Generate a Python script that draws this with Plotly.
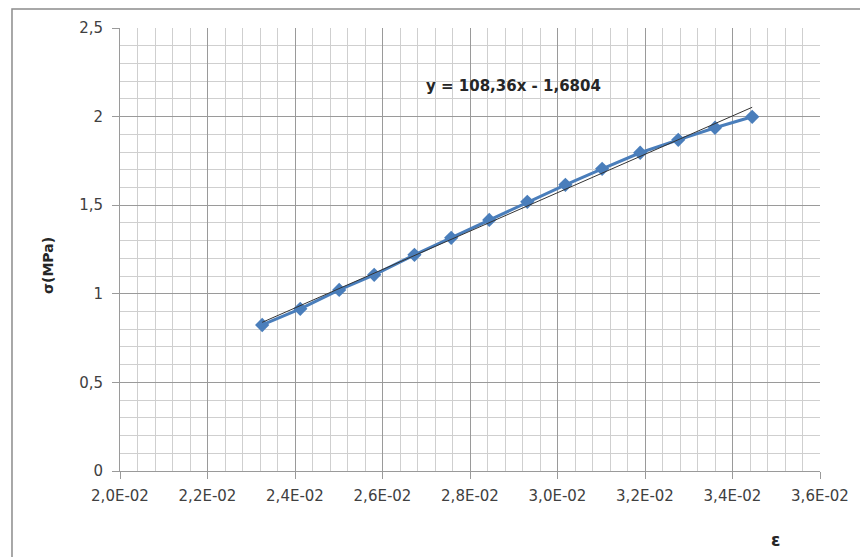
import plotly.graph_objects as go

# Data
strain = [0.02325, 0.02412, 0.02501, 0.02581, 0.02673, 0.02757, 0.02844,
          0.02931, 0.03018, 0.03102, 0.03189, 0.03276, 0.03360, 0.03445]
stress = [0.824, 0.915, 1.022, 1.107, 1.220, 1.316, 1.417,
          1.519, 1.615, 1.705, 1.796, 1.869, 1.937, 1.999]

# Trendline from the displayed equation
slope = 108.36
intercept = -1.6804
trend_x = [min(strain), max(strain)]
trend_y = [slope * v + intercept for v in trend_x]

x_tickvals = [0.020, 0.022, 0.024, 0.026, 0.028, 0.030, 0.032, 0.034, 0.036]
x_ticktext = ["2,0E-02", "2,2E-02", "2,4E-02", "2,6E-02", "2,8E-02",
              "3,0E-02", "3,2E-02", "3,4E-02", "3,6E-02"]
y_tickvals = [0, 0.5, 1, 1.5, 2, 2.5]
y_ticktext = ["0", "0,5", "1", "1,5", "2", "2,5"]

FONT = "'DejaVu Sans', sans-serif"
TICKFONT = dict(family=FONT, size=15, color="#404040")

fig = go.Figure()
fig.add_trace(go.Scatter(
    x=strain, y=stress, mode="lines+markers",
    line=dict(color="#4A7EBB", width=3),
    marker=dict(symbol="diamond", size=11, color="#4A7EBB"),
    showlegend=False,
))
fig.add_trace(go.Scatter(
    x=trend_x, y=trend_y, mode="lines",
    line=dict(color="#333333", width=1),
    showlegend=False,
))

axis_common = dict(
    showgrid=True, gridcolor="#9A9A9A", gridwidth=1,
    showline=True, linecolor="#9A9A9A", linewidth=1,
    ticks="outside", ticklen=7, tickcolor="#9A9A9A",
    zeroline=False, tickfont=TICKFONT,
)

fig.update_layout(
    width=860, height=557,
    margin=dict(l=120, r=40, t=28, b=86),
    paper_bgcolor="white", plot_bgcolor="white",
    font=dict(family=FONT, size=15, color="#404040"),
    xaxis=dict(
        range=[0.020, 0.036],
        tickvals=x_tickvals, ticktext=x_ticktext,
        minor=dict(dtick=0.0004, tick0=0.02, showgrid=True,
                   gridcolor="#CFCFCF", gridwidth=1),
        ticklabelstandoff=4,
        **axis_common,
    ),
    yaxis=dict(
        range=[0, 2.5],
        tickvals=y_tickvals, ticktext=y_ticktext,
        minor=dict(dtick=0.1, tick0=0, showgrid=True,
                   gridcolor="#CFCFCF", gridwidth=1),
        ticklabelstandoff=6,
        **axis_common,
    ),
    annotations=[
        dict(text="<b>y = 108,36x - 1,6804</b>", x=0.0290, y=2.17,
             xref="x", yref="y", showarrow=False,
             xanchor="center", yanchor="middle",
             font=dict(family=FONT, size=15, color="#262626")),
        dict(text="<b>σ(MPa)</b>", x=-0.103, y=0.465, xref="paper", yref="paper",
             showarrow=False, textangle=-90, xanchor="center", yanchor="middle",
             font=dict(family=FONT, size=14, color="#262626")),
        dict(text="<b>ε</b>", x=0.936, y=-0.155, xref="paper", yref="paper",
             showarrow=False, xanchor="center", yanchor="middle",
             font=dict(family=FONT, size=17, color="#262626")),
    ],
    shapes=[
        dict(type="rect", xref="paper", yref="paper",
             x0=-0.1543, y0=-0.35, x1=1.2, y1=1.0429,
             line=dict(color="#8C8C8C", width=1.5), layer="below"),
    ],
)

fig.write_html("out.html")
